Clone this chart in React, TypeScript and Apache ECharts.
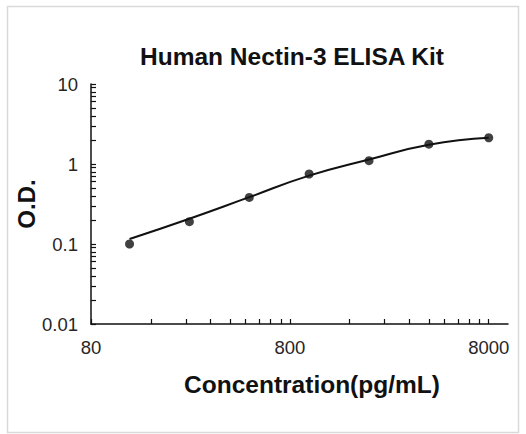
import React, { useEffect, useRef } from 'react';
import * as echarts from 'echarts';

const titleText = 'Human Nectin-3 ELISA Kit';
const xAxisName = 'Concentration(pg/mL)';
const yAxisName = 'O.D.';

const concentrations = [125, 250, 500, 1000, 2000, 4000, 8000];
const odValues = [0.1, 0.19, 0.382, 0.75, 1.1, 1.77, 2.13];
const fitValues = [0.1155, 0.207, 0.385, 0.715, 1.14, 1.74, 2.13];

const xLabelValues = [80, 800, 8000];
const xTickValues = [
  80, 160, 240, 320, 400, 480, 560, 640, 720,
  800, 1600, 2400, 3200, 4000, 4800, 5600, 6400, 7200, 8000,
];
const yLabelValues = [0.01, 0.1, 1, 10];
const yTickValues = [
  0.01, 0.02, 0.03, 0.04, 0.05, 0.06, 0.07, 0.08, 0.09,
  0.1, 0.2, 0.3, 0.4, 0.5, 0.6, 0.7, 0.8, 0.9,
  1, 2, 3, 4, 5, 6, 7, 8, 9, 10,
];

const FONT = '"Liberation Sans", Arial, sans-serif';

export default function App() {
  const ref = useRef<HTMLDivElement>(null);
  useEffect(() => {
    if (!ref.current) return;
    const chart = echarts.init(ref.current, null, { renderer: 'svg' });
    const fitData = concentrations.map((c, i) => [c, fitValues[i]]);
    const pointData = concentrations.map((c, i) => [c, odValues[i]]);
    chart.setOption({
      animation: false,
      backgroundColor: '#ffffff',
      title: {
        text: titleText,
        left: 287,
        textAlign: 'center',
        top: 39,
        textStyle: { fontFamily: FONT, fontSize: 24.5, fontWeight: 'bold', color: '#111111' },
      },
      graphic: [
        {
          type: 'rect',
          shape: { x: 7.5, y: 6.5, width: 511, height: 426 },
          style: { fill: 'none', stroke: '#d9d9d9', lineWidth: 1.5 },
          silent: true,
        },
      ],
      grid: { left: 91, top: 84, right: 18, bottom: 110 },
      xAxis: {
        type: 'log',
        logBase: 10,
        min: 80,
        max: 10000,
        name: xAxisName,
        nameLocation: 'middle',
        nameGap: 48,
        nameTextStyle: { fontFamily: FONT, fontSize: 24.5, fontWeight: 'bold', color: '#111111', padding: [0, 0, 0, 25] },
        axisLine: { lineStyle: { color: '#111111', width: 1.5 } },
        axisTick: { show: true, inside: true, length: 5, customValues: xTickValues, lineStyle: { color: '#111111', width: 1.2 } },
        minorTick: { show: false },
        axisLabel: {
          customValues: xLabelValues,
          margin: 14,
          fontFamily: FONT,
          fontSize: 18.5,
          color: '#262626',
          formatter: (v: number) => String(Math.round(v)),
        },
        splitLine: { show: false },
      },
      yAxis: {
        type: 'log',
        logBase: 10,
        min: 0.01,
        max: 10,
        name: yAxisName,
        nameLocation: 'middle',
        nameGap: 53,
        nameMoveOverlap: false,
        nameTextStyle: { fontFamily: FONT, fontSize: 24, fontWeight: 'bold', color: '#111111' },
        axisLine: { lineStyle: { color: '#111111', width: 1.5 } },
        axisTick: { show: true, inside: true, length: 5, customValues: yTickValues, lineStyle: { color: '#111111', width: 1.2 } },
        axisLabel: {
          customValues: yLabelValues,
          margin: 13,
          fontFamily: FONT,
          fontSize: 18.5,
          color: '#262626',
          formatter: (v: number) => String(v),
        },
        splitLine: { show: false },
      },
      series: [
        {
          type: 'line',
          data: fitData,
          smooth: 0.5,
          showSymbol: false,
          symbol: 'none',
          lineStyle: { color: '#111111', width: 2 },
          z: 2,
        },
        {
          type: 'scatter',
          data: pointData,
          symbol: 'circle',
          symbolSize: 9,
          itemStyle: { color: '#111111' },
          z: 3,
        },
      ],
    });
    return () => chart.dispose();
  }, []);
  return (
    <div
      ref={ref}
      style={{ position: 'fixed', left: 0, top: 0, width: 526, height: 434 }}
    />
  );
}
